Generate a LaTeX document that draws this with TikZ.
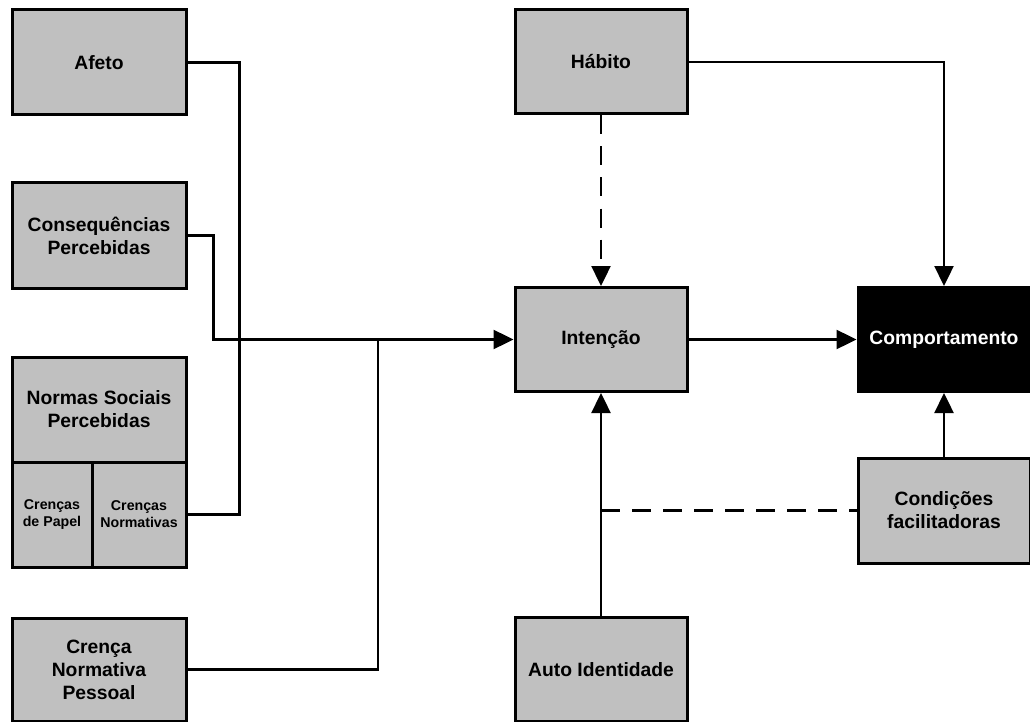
\documentclass[tikz,border=0pt]{standalone}
\usepackage{fontspec}
\setmainfont{Liberation Sans}
\usetikzlibrary{arrows.meta}
\definecolor{boxgray}{RGB}{192,192,192}

\tikzset{
  box/.style={draw=black, fill=boxgray, line width=3pt, inner sep=0pt,
    minimum width=174pt, minimum height=105pt, align=center,
    font=\fontsize{19.3}{23}\selectfont\bfseries},
  subbox/.style={box, minimum height=105pt,
    font=\fontsize{14.2}{17}\selectfont\bfseries},
  darkbox/.style={box, fill=black, text=white, minimum width=172pt, minimum height=104pt},
  conn/.style={draw=black, line width=2.4pt},
  arr/.style={conn, -{Triangle[length=20pt,width=19pt]}},
  dashline/.style={dash pattern=on 19pt off 12pt}
}

\begin{document}
\begin{tikzpicture}[x=1pt, y=-1pt]
  \useasboundingbox (0,0) rectangle (1030,722);
  \fill[white] (0,0) rectangle (1030,722);

  % left column
  \node[box] (afeto) at (99,62.5) {Afeto};
  \node[box] (cons) at (99,235.5) {Consequências\\Percebidas};
  \node[box] (norm) at (99,409.5) {Normas Sociais\\Percebidas};
  \node[subbox, minimum width=80pt] (papel) at (52,514.5) {Crenças\\de Papel};
  \node[subbox, minimum width=94pt] (crn) at (139,514.5) {Crenças\\Normativas};
  \node[box, minimum height=103pt] (cnp) at (99,669.5) {Crença\\Normativa\\Pessoal};

  % middle column
  \node[box, minimum width=172pt, minimum height=104pt] (hab) at (601,62) {Hábito};
  \node[box, minimum width=172pt, minimum height=104pt] (int) at (601,339.5) {Intenção};
  \node[box, minimum width=172pt, minimum height=104pt] (auto) at (601,669.5) {Auto Identidade};

  % right column
  \node[darkbox] (comp) at (944,339.5) {Comportamento};
  \node[box, minimum width=172pt, minimum height=105pt] (cond) at (944,510.5) {Condições\\facilitadoras};

  % junctions
  \coordinate (jp) at (378,339.5);
  \coordinate (jc) at (cond.west -| auto.north);

  % connectors
  \draw[conn] (afeto.east) -- ++(52,0) |- (crn.east);
  \draw[arr] (cons.east) -- ++(26,0) |- (int.west);
  \draw[conn] (cnp.east) -| (jp);
  \draw[arr] (hab.east) -| (comp.north);
  \draw[arr, dashline] (hab.south) -- (int.north);
  \draw[arr] (int.east) -- (comp.west);
  \draw[arr] (auto.north) -- (int.south);
  \draw[arr] (cond.north) -- (comp.south);
  \draw[conn, dashline] (jc) -- (cond.west);
\end{tikzpicture}
\end{document}
